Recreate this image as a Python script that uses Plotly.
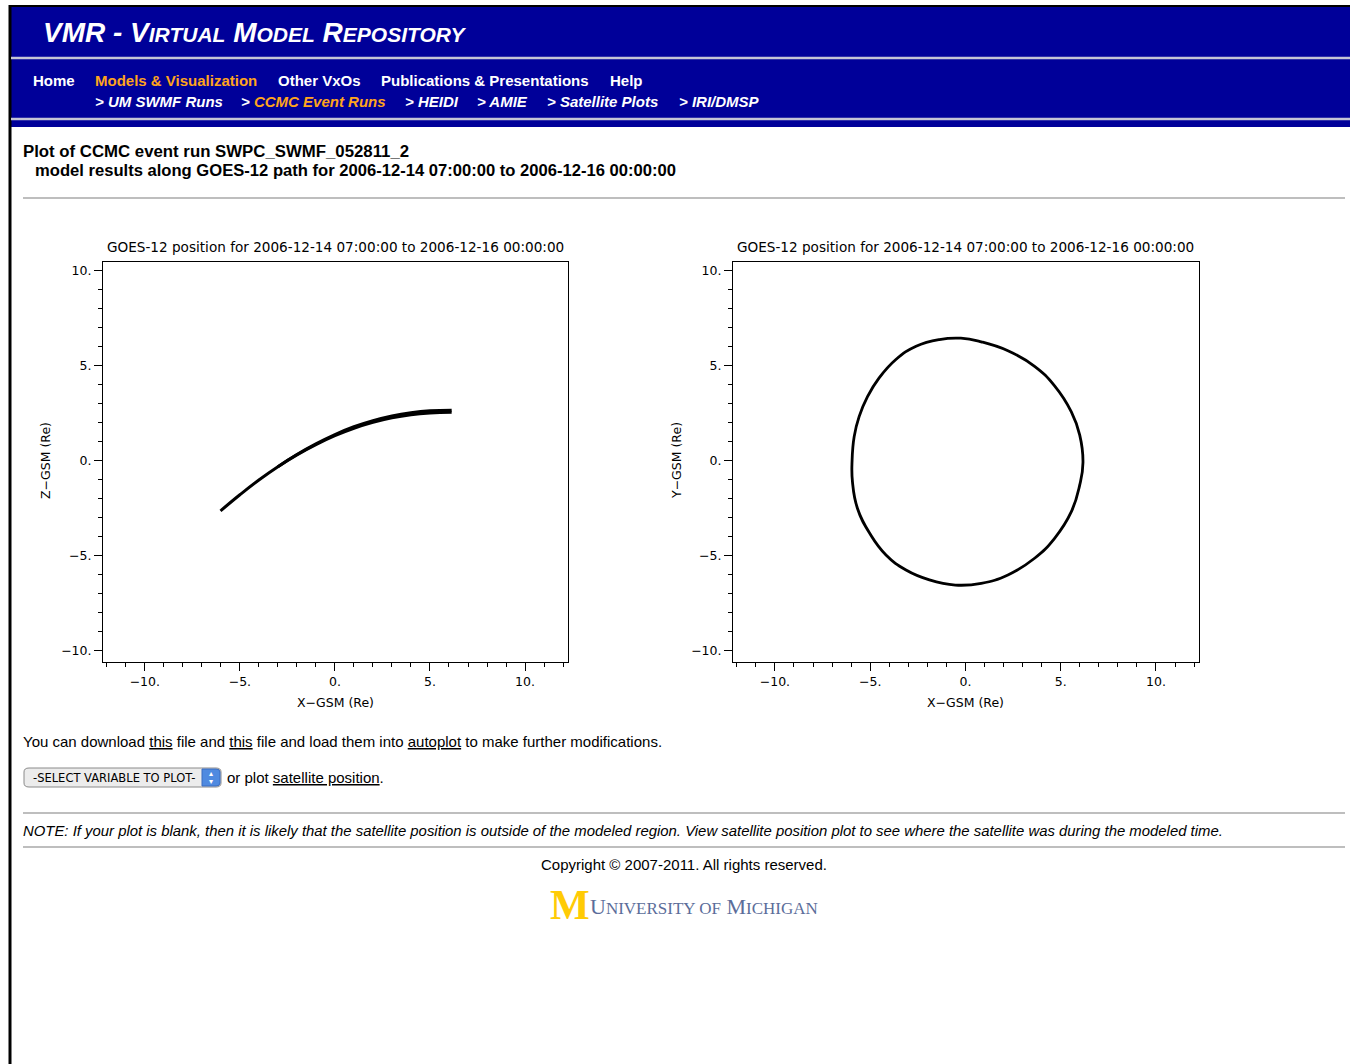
import plotly.graph_objects as go

W, H = 1350, 1064


def px(x):
    return x / W


def py(y):
    return 1 - y / H


# ---------------- data ----------------
# X-GSM vs Z-GSM path (two overlapping passes)
xz_x_a = [-6.02, -5.0, -4.0, -3.0, -2.0, -1.0, 0.0, 1.0, 2.0, 3.0, 4.0, 5.0, 6.14]
xz_z_a = [-2.63, -1.78, -1.00, -0.30, 0.32, 0.86, 1.33, 1.72, 2.03, 2.27, 2.43, 2.52, 2.56]
xz_x_b = [-3.0, -2.0, -1.0, 0.0, 1.0, 2.0, 3.0, 4.0, 5.0, 6.14]
xz_z_b = [-0.30, 0.34, 0.90, 1.39, 1.80, 2.12, 2.37, 2.54, 2.64, 2.67]

# X-GSM vs Y-GSM path
xy_x = [6.17, 6.00, 5.56, 4.68, 3.63, 2.23, 0.83, -0.24, -1.37, -2.59, -3.65,
        -4.53, -5.14, -5.58, -5.84, -5.95, -5.93, -5.67, -5.00, -4.17, -3.12,
        -1.89, -0.53, 0.83, 2.23, 3.63, 4.68, 5.56, 6.00, 6.17]
xy_y = [-0.08, 1.36, 2.58, 3.95, 4.98, 5.80, 6.27, 6.46, 6.39, 6.04, 5.34,
        4.37, 3.38, 2.33, 1.28, 0.00, -1.09, -2.49, -3.85, -4.95, -5.74,
        -6.26, -6.53, -6.44, -6.00, -5.12, -4.07, -2.67, -1.26, -0.08]

tick_vals = [-10, -5, 0, 5, 10]
tick_text = ["\u221210.", "\u22125.", "0.", "5.", "10."]

plot_title = "GOES-12 position for 2006-12-14 07:00:00 to 2006-12-16 00:00:00"

# ---------------- figure ----------------
fig = go.Figure()
fig.add_trace(go.Scatter(x=xz_x_a, y=xz_z_a, mode="lines",
                         line=dict(color="black", width=3, shape="spline", smoothing=1.3),
                         xaxis="x", yaxis="y", hoverinfo="skip"))
fig.add_trace(go.Scatter(x=xz_x_b, y=xz_z_b, mode="lines",
                         line=dict(color="black", width=3, shape="spline", smoothing=1.3),
                         xaxis="x", yaxis="y", hoverinfo="skip"))
fig.add_trace(go.Scatter(x=xy_x, y=xy_y, mode="lines",
                         line=dict(color="black", width=2.8, shape="spline", smoothing=1.3),
                         xaxis="x2", yaxis="y2", hoverinfo="skip"))

PF = "DejaVu Sans"
HF = "Liberation Sans"


def axis(domain, rng, anchor):
    return dict(domain=domain, range=rng, anchor=anchor, showline=True, linecolor="black", linewidth=1,
                mirror=True, ticks="outside", ticklen=8, tickwidth=1, tickcolor="black",
                tickmode="array", tickvals=tick_vals, ticktext=tick_text,
                minor=dict(tickmode="linear", tick0=0, dtick=1, ticks="outside", ticklen=4,
                           tickcolor="black", tickwidth=1),
                showgrid=False, zeroline=False, fixedrange=True,
                tickfont=dict(family=PF, size=12.5, color="black"))


xr = [-12.2, 12.26]
yr = [-10.58, 10.47]
L = dict(x0=103, x1=568)
R = dict(x0=733, x1=1199)
T, B = 262, 662

layout = dict(
    width=W, height=H, margin=dict(l=0, r=0, t=0, b=0),
    paper_bgcolor="white", plot_bgcolor="white", showlegend=False,
    xaxis=axis([px(L["x0"]), px(L["x1"])], xr, "y"),
    yaxis=axis([py(B), py(T)], yr, "x"),
    xaxis2=axis([px(R["x0"]), px(R["x1"])], xr, "y2"),
    yaxis2=axis([py(B), py(T)], yr, "x2"),
)
fig.update_layout(**layout)

shapes = []
ann = []


def rect(x0, y0, x1, y1, fill, line=None, lw=0):
    shapes.append(dict(type="rect", xref="paper", yref="paper", x0=px(x0), x1=px(x1), y0=py(y1), y1=py(y0),
                       fillcolor=fill, line=dict(color=line or fill, width=lw), layer="below"))


def hline(x0, x1, y, color, w):
    shapes.append(dict(type="line", xref="paper", yref="paper", x0=px(x0), x1=px(x1), y0=py(y), y1=py(y),
                       line=dict(color=color, width=w)))


def vline(x, y0, y1, color, w):
    shapes.append(dict(type="line", xref="paper", yref="paper", x0=px(x), x1=px(x), y0=py(y0), y1=py(y1),
                       line=dict(color=color, width=w)))


def text(x, y, s, size=15, color="black", family=HF, xanchor="left", angle=0):
    ann.append(dict(xref="paper", yref="paper", x=px(x), y=py(y), text=s, showarrow=False,
                    xanchor=xanchor, yanchor="middle", textangle=angle, borderpad=0, borderwidth=0,
                    font=dict(family=family, size=size, color=color)))


# header
BLUE = "#000099"
ORANGE = "#ffa41c"
rect(10, 7, 1350, 127, BLUE)
hline(10, 1350, 6, "black", 2)
vline(10, 5, 1064, "black", 3)
hline(11, 1350, 58, "#c4c4d6", 2.5)
hline(11, 1350, 119, "#c4c4d6", 2.5)

sc = "<span style='font-size:21px'>"
text(43, 32, "<b><i>VMR - V" + sc + "IRTUAL</span> M" + sc + "ODEL</span> R" + sc + "EPOSITORY</span></i></b>",
     size=28, color="white")

nav1 = [(33, "Home", "white"), (95, "Models &amp; Visualization", ORANGE), (278, "Other VxOs", "white"),
        (381, "Publications &amp; Presentations", "white"), (610, "Help", "white")]
for x, s, c in nav1:
    text(x, 80, "<b>" + s + "</b>", size=15, color=c)

nav2 = [(95, "&gt; UM SWMF Runs"),
        (241, "&gt; <span style='color:" + ORANGE + "'>CCMC Event Runs</span>"),
        (405, "&gt; HEIDI"), (477, "&gt; AMIE"), (547, "&gt; Satellite Plots"), (679, "&gt; IRI/DMSP")]
for x, s in nav2:
    text(x, 101, "<b><i>" + s + "</i></b>", size=15, color="white")

# page heading
text(23, 152, "<b>Plot of CCMC event run SWPC_SWMF_052811_2</b>", size=16.8)
text(35, 171, "<b>model results along GOES-12 path for 2006-12-14 07:00:00 to 2006-12-16 00:00:00</b>", size=16.6)
hline(23, 1345, 198, "#a8a8a8", 1.5)

# plot titles and axis titles
for a in (L, R):
    cx = (a["x0"] + a["x1"]) / 2
    text(cx, 247, plot_title, size=13.6, family=PF, xanchor="center")
    text(cx, 702, "X\u2212GSM (Re)", size=12.5, family=PF, xanchor="center")
text(45, 461, "Z\u2212GSM (Re)", size=12.5, family=PF, xanchor="center", angle=-90)
text(676, 461, "Y\u2212GSM (Re)", size=12.5, family=PF, xanchor="center", angle=-90)

# download text
U = "<span style='text-decoration:underline'>"
text(23, 741, "You can download " + U + "this</span> file and " + U + "this</span> file and load them into "
     + U + "autoplot</span> to make further modifications.", size=15)

# select box
shapes.append(dict(type="path", xref="paper", yref="paper",
                   path=("M {a},{b} L {c},{b} Q {d},{b} {d},{e} L {d},{f} Q {d},{g} {c},{g} L {a},{g} "
                         "Q {h},{g} {h},{f} L {h},{e} Q {h},{b} {a},{b} Z").format(
                       a=px(29), b=py(768), c=px(216), d=px(221), e=py(772), f=py(783), g=py(787), h=px(24)),
                   fillcolor="#ececec", line=dict(color="#8a8a8a", width=1)))
shapes.append(dict(type="path", xref="paper", yref="paper",
                   path=("M {a},{b} L {c},{b} Q {d},{b} {d},{e} L {d},{f} Q {d},{g} {c},{g} L {a},{g} Z").format(
                       a=px(202), b=py(769), c=px(216), d=px(220), e=py(772), f=py(783), g=py(786)),
                   fillcolor="#4f8ae0", line=dict(color="#3a6cc0", width=1)))
text(211, 774, "\u25b4", size=8, color="white", family=PF, xanchor="center")
text(211, 781, "\u25be", size=8, color="white", family=PF, xanchor="center")
text(114, 777.5, "-SELECT VARIABLE TO PLOT-", size=11.5, family=PF, xanchor="center")
text(227, 777, "or plot " + U + "satellite position</span>.", size=15)

hline(23, 1345, 813, "#a8a8a8", 1.5)
text(23, 831, "<i>NOTE: If your plot is blank, then it is likely that the satellite position is outside of the modeled "
     "region. View satellite position plot to see where the satellite was during the modeled time.</i>", size=14.9)
hline(23, 1345, 847, "#a8a8a8", 1.5)
text(684, 864, "Copyright \u00a9 2007-2011. All rights reserved.", size=15, xanchor="center")

# University of Michigan wordmark
text(570, 905, "<b>M</b>", size=42, color="#ffcb05", family="Liberation Serif", xanchor="center")
s2 = "<span style='font-size:17px'>"
text(590, 906, "U" + s2 + "NIVERSITY OF</span> M" + s2 + "ICHIGAN</span>", size=22, color="#5b6d9a",
     family="Liberation Serif")

fig.update_layout(shapes=shapes, annotations=ann)
fig.write_html("out.html", config={"displayModeBar": False, "staticPlot": True})
